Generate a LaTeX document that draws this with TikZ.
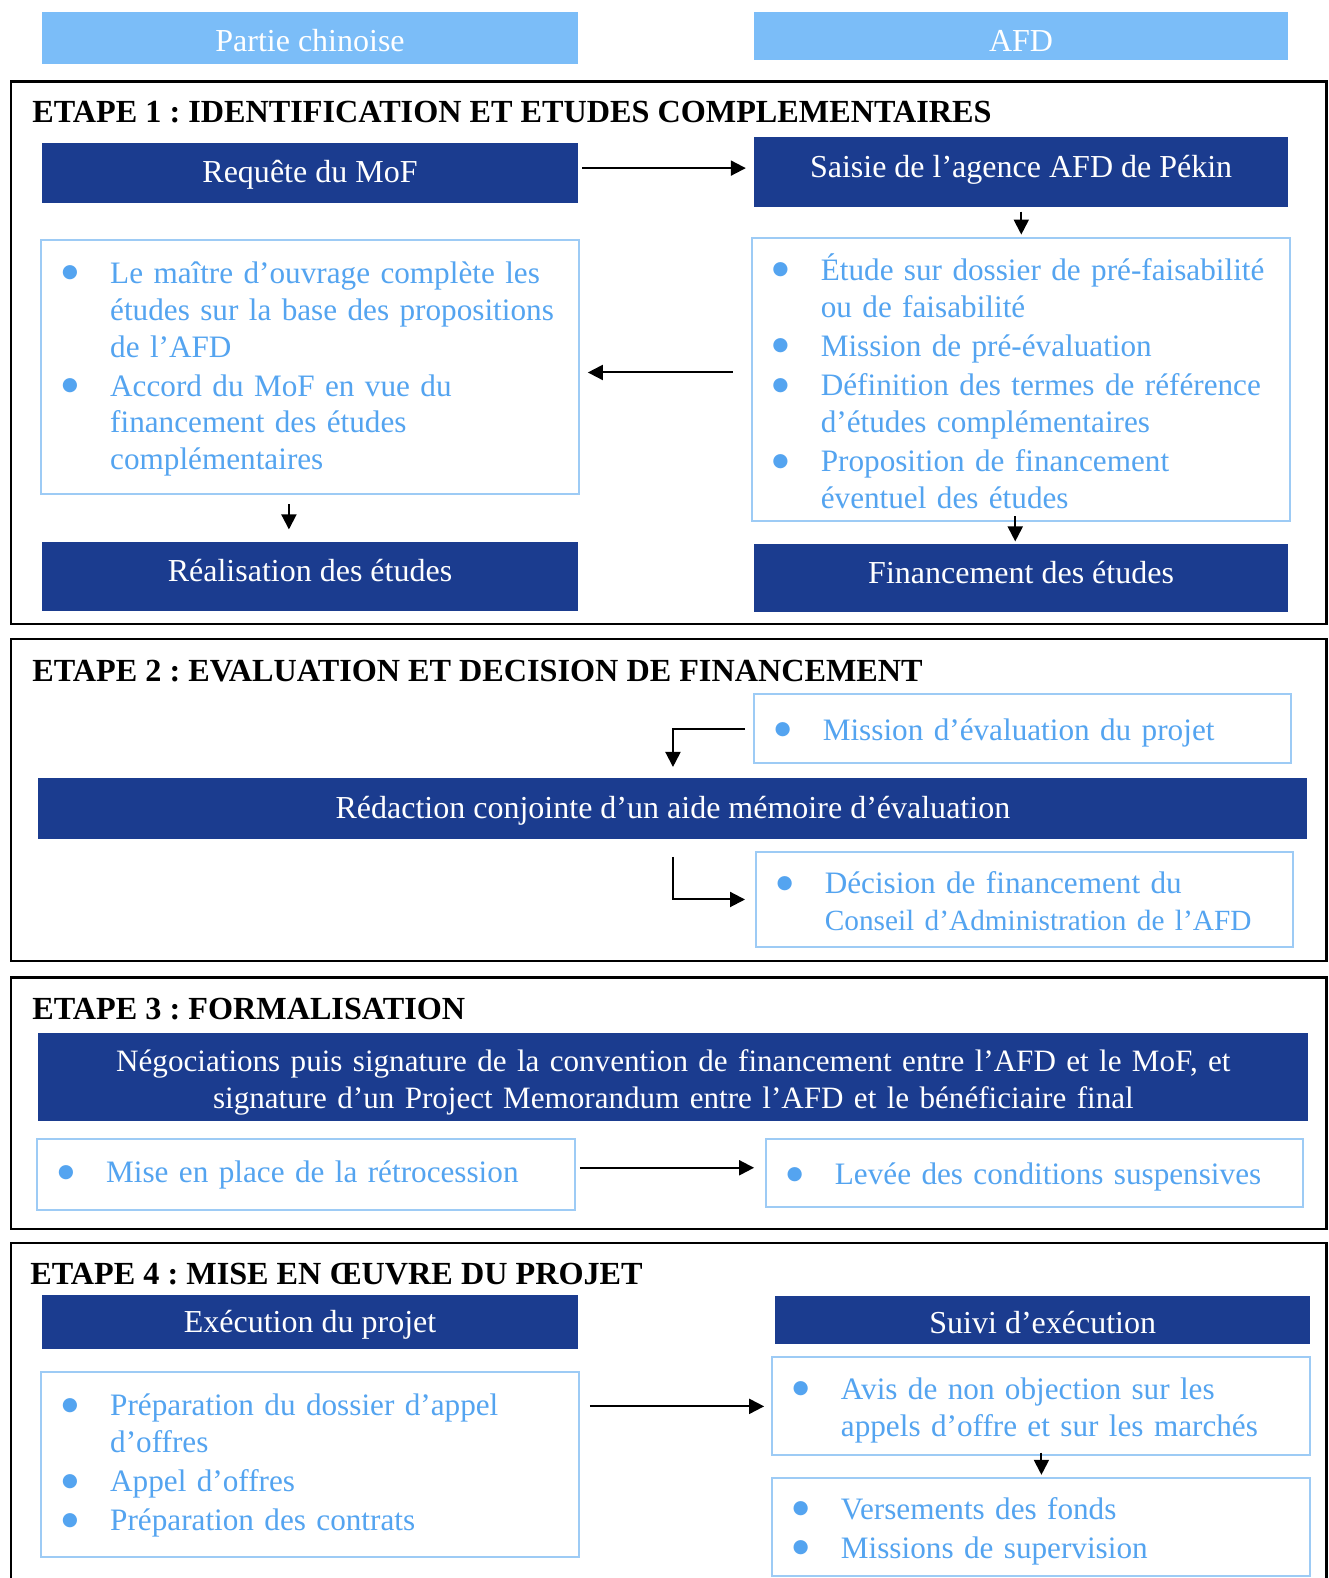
\documentclass[tikz,border=0pt]{standalone}
\usepackage{fontspec}
\setmainfont{Liberation Serif}
\newfontfamily\bulfont{DejaVu Sans}
\usetikzlibrary{arrows.meta,calc}
\definecolor{dblue}{RGB}{27,60,143}
\definecolor{hblue}{RGB}{123,189,248}
\definecolor{lborder}{RGB}{157,203,245}
\definecolor{ltext}{RGB}{84,164,240}
\frenchspacing
\newcommand{\fsd}{\fontsize{31.8bp}{36.5bp}\selectfont}
\newcommand{\fsl}{\fontsize{31bp}{36.5bp}\selectfont\setlength{\parskip}{2.5bp}}
\newcommand{\fst}{\fontsize{32bp}{36bp}\selectfont\bfseries}
\newcommand{\bul}{\hspace*{-1.5bp}\raisebox{5.5bp}{\bulfont\fontsize{18.5bp}{18.5bp}\selectfont ●}}
\newcommand{\bli}[1]{\par\hangindent=46.5bp\hangafter=1\noindent\makebox[46.5bp][l]{\bul}#1\par}
\newcommand{\ltop}[1]{\vspace*{-#1bp}}
\tikzset{
  dbox/.style={fill=dblue, draw=none, text=white, font=\fsd, inner sep=0pt, align=center},
  hbox/.style={fill=hblue, draw=none, text=white, font=\fsd, inner sep=0pt},
  lbox/.style={draw=lborder, line width=2bp, text=ltext, font=\fsl, inner xsep=22bp, inner ysep=0pt, align=left},
  bsl/.style={text height=#1, text depth=0pt},
  frame/.style={draw=black, line width=2.5bp},
  ttl/.style={font=\fst, anchor=base west, inner sep=0pt},
  arr/.style={draw=black, line width=2bp, -{Triangle[length=15bp,width=15bp]}},
}
\begin{document}
\begin{tikzpicture}[x=1bp,y=-1bp]
\useasboundingbox[fill=white] (0,0) rectangle (1329,1578);
\begin{scope}[scale=1.0065, transform shape]

% headers
\node[hbox, minimum width=532bp, minimum height=52bp, bsl=26bp] (hdrL) at (308,38) {Partie chinoise};
\node[hbox, minimum width=531bp, minimum height=48bp, bsl=30bp] (hdrR) at (1014.5,36) {AFD};

% ---------- ETAPE 1
\draw[frame] (11,81) rectangle (1318,620);
\node[ttl] (t1) at (32,122) {ETAPE 1 : IDENTIFICATION ET ETUDES COMPLEMENTAIRES};
\node[dbox, minimum width=532bp, minimum height=60bp, bsl=18bp] (req) at (308,172) {Requête du MoF};
\node[dbox, minimum width=531bp, minimum height=70bp, bsl=10bp] (saisie) at (1014.5,171) {Saisie de l’agence AFD de Pékin};
\node[lbox, minimum width=534bp, minimum height=253bp, text width=490bp] (llist) at (308,364.5)
  {\ltop{13}\bli{\mbox{Le maître d’ouvrage complète les}\newline\mbox{études sur la base des propositions}\newline\mbox{de l’AFD}}%
   \bli{\mbox{Accord du MoF en vue du}\newline\mbox{financement des études}\newline\mbox{complémentaires}}};
\node[lbox, minimum width=535bp, minimum height=282bp, text width=491bp] (rlist) at (1014.5,377)
  {\ltop{9}\bli{\mbox{Étude sur dossier de pré-faisabilité}\newline\mbox{ou de faisabilité}}%
   \bli{\mbox{Mission de pré-évaluation}}%
   \bli{\mbox{Définition des termes de référence}\newline\mbox{d’études complémentaires}}%
   \bli{\mbox{Proposition de financement}\newline\mbox{éventuel des études}}};
\node[dbox, minimum width=532bp, minimum height=69bp, bsl=11bp] (real) at (308,572.5) {Réalisation des études};
\node[dbox, minimum width=531bp, minimum height=68bp, bsl=12bp] (fin) at (1014.5,574) {Financement des études};

\draw[arr, shorten <=4bp, shorten >=8bp] ([yshift=5bp]req.east) -- ([yshift=5bp]req.east -| saisie.west);
\draw[arr, shorten <=4bp, shorten >=2bp] (saisie.south) -- (rlist.north);
\draw[arr, shorten <=18bp, shorten >=8bp] ([yshift=7bp]rlist.west) -- ([yshift=7bp]rlist.west -| llist.east);
\draw[arr, shorten <=9bp, shorten >=12bp] ([xshift=-21bp]llist.south) -- ([xshift=-21bp]llist.south |- real.north);
\draw[arr, shorten <=-6bp, shorten >=2bp] ([xshift=-6bp]rlist.south) -- ([xshift=-6bp]rlist.south |- fin.north);

% ---------- ETAPE 2
\draw[frame] (11,635) rectangle (1318,955);
\node[ttl] (t2) at (32,677) {ETAPE 2 : EVALUATION ET DECISION DE FINANCEMENT};
\node[lbox, minimum width=534bp, minimum height=68bp, text width=490bp] (miss) at (1016,724)
  {\ltop{9}\bli{\mbox{Mission d’évaluation du projet}}};
\node[dbox, minimum width=1261bp, minimum height=61bp, bsl=19bp] (red) at (668.5,803.5) {Rédaction conjointe d’un aide mémoire d’évaluation};
\node[lbox, minimum width=534bp, minimum height=95bp, text width=490bp] (dec) at (1018,893.5)
  {\ltop{13}\bli{\mbox{Décision de financement du}\newline\mbox{\fontsize{29.1bp}{36.5bp}\selectfont Conseil d’Administration de l’AFD}}};

\draw[arr, shorten <=8bp, shorten >=11bp] (miss.west) -| (red.north);
\draw[arr, shorten <=17bp, shorten >=10bp] (red.south) |- (dec.west);

% ---------- ETAPE 3
\draw[frame] (11,971) rectangle (1318,1221);
\node[ttl] (t3) at (32,1013) {ETAPE 3 : FORMALISATION};
\node[dbox, minimum width=1262bp, minimum height=88bp, text width=1240bp, font=\fontsize{30.9bp}{36bp}\selectfont, text height=0bp, text depth=10bp] (neg) at (669,1070)
  {Négociations puis signature de la convention de financement entre l’AFD et le MoF, et\\
   signature d’un Project Memorandum entre l’AFD et le bénéficiaire final};
\node[lbox, minimum width=534bp, minimum height=70bp, text width=490bp] (mise) at (304,1167)
  {\ltop{16}\bli{\mbox{Mise en place de la rétrocession}}};
\node[lbox, minimum width=534bp, minimum height=67bp, text width=490bp] (levee) at (1028,1165.5)
  {\ltop{9}\bli{\mbox{Levée des conditions suspensives}}};

\draw[arr, shorten <=4bp, shorten >=11bp] ([yshift=7bp]mise.east) -- ([yshift=7bp]mise.east -| levee.west);

% ---------- ETAPE 4
\draw[frame] (11,1600) -- (11,1235) -- (1318,1235) -- (1318,1600);
\node[ttl] (t4) at (30,1276) {ETAPE 4 : MISE EN ŒUVRE DU PROJET};
\node[dbox, minimum width=532bp, minimum height=54bp, bsl=21bp] (exec) at (308,1313.5) {Exécution du projet};
\node[dbox, minimum width=532bp, minimum height=48bp, bsl=27bp] (suivi) at (1036,1311.5) {Suivi d’exécution};
\node[lbox, minimum width=534bp, minimum height=184bp, text width=490bp] (exlist) at (308,1455)
  {\ltop{15}\bli{\mbox{Préparation du dossier d’appel}\newline\mbox{d’offres}}%
   \bli{\mbox{Appel d’offres}}%
   \bli{\mbox{Préparation des contrats}}};
\node[lbox, minimum width=535bp, minimum height=98bp, text width=491bp] (avis) at (1034.5,1397)
  {\ltop{9}\bli{\mbox{Avis de non objection sur les}\newline\mbox{appels d’offre et sur les marchés}}};
\node[lbox, minimum width=535bp, minimum height=98bp, text width=491bp] (vers) at (1034.5,1517)
  {\ltop{9}\bli{\mbox{Versements des fonds}}%
   \bli{\mbox{Missions de supervision}}};

\draw[arr, shorten <=10bp, shorten >=7bp] (avis.west -| exlist.east) -- (avis.west);
\draw[arr, shorten <=-4bp, shorten >=2bp] (avis.south) -- (vers.north);
\end{scope}
\end{tikzpicture}
\end{document}
